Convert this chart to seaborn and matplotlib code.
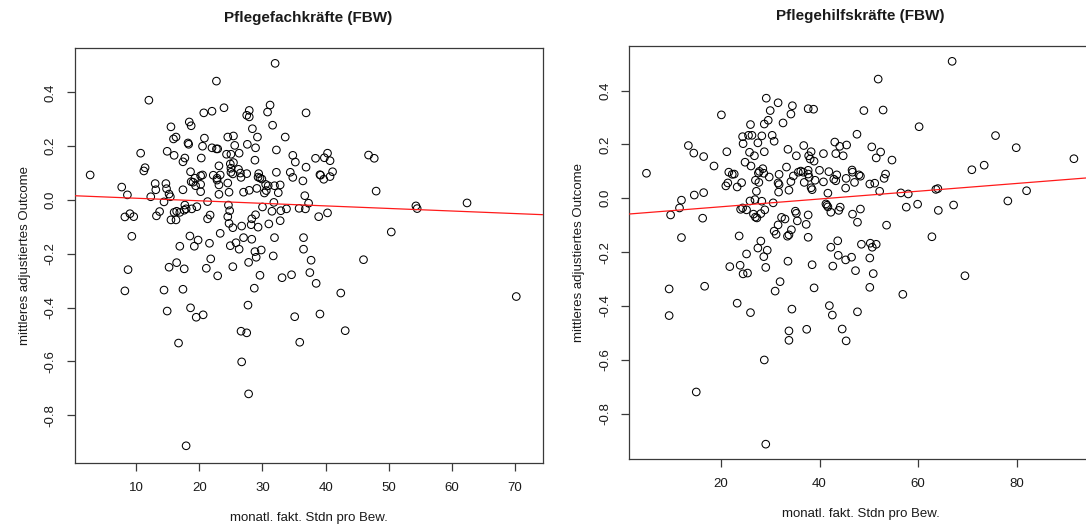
import matplotlib
matplotlib.use("Agg")
import matplotlib.pyplot as plt
import seaborn as sns
import numpy as np
import pandas as pd

# Pflegefachkräfte: monthly invoiced hours per resident vs. mean adjusted outcome
fach_stunden = [
    2.7, 12.0, 10.7, 11.4, 11.2, 7.7, 8.6, 8.2, 9.0, 9.6, 9.3, 12.3, 8.7, 8.2,
    32.0, 22.7, 23.9, 20.7, 22.0, 27.9, 27.5, 27.9, 31.2, 30.8, 31.6, 15.5, 18.4, 18.7,
    28.4, 15.9, 16.3, 20.8, 24.5, 25.4, 29.2, 33.6, 18.2, 18.3, 20.5, 22.0, 22.7, 22.9,
    25.6, 27.6, 28.9, 14.9, 16.0, 24.3, 25.0, 26.3, 32.2, 17.7, 17.4, 20.3, 28.8, 34.8,
    35.2, 23.1, 24.9, 25.4, 25.0, 18.6, 20.5, 20.2, 22.2, 22.8, 22.8, 23.3, 25.0, 25.3,
    26.2, 26.5, 26.6, 27.5, 29.4, 29.3, 29.6, 29.9, 32.2, 34.4, 34.8, 19.3, 19.0, 18.7,
    19.4, 20.2, 23.1, 24.5, 30.5, 30.9, 30.6, 30.3, 31.9, 32.8, 32.5, 13.0, 13.1, 14.7,
    14.8, 15.2, 15.4, 17.4, 20.2, 23.1, 24.7, 27.0, 27.9, 29.1, 14.4, 17.7, 21.3, 24.6,
    31.8, 13.7, 16.0, 16.4, 16.9, 17.6, 17.9, 18.8, 19.6, 24.8, 30.0, 31.5, 32.9, 33.8,
    28.9,
    13.2, 15.5, 16.3, 21.3, 21.7, 24.5, 24.7, 25.3, 26.7, 28.3, 28.2, 29.3, 31.0, 32.8,
    23.3, 18.5, 19.8, 19.2, 16.9, 21.6, 24.9, 25.8, 26.3, 27.0, 28.3, 31.9, 28.8, 29.8,
    29.0, 31.7, 27.8, 21.8, 16.4, 15.2, 17.6, 21.1, 25.3, 22.9, 29.6, 33.1, 34.6, 14.4,
    17.4, 28.7, 14.9, 18.6, 19.5, 20.6, 27.7, 35.1, 26.6, 27.5, 16.7, 26.7, 27.8, 17.9,
    36.9, 38.4, 39.8, 40.3, 40.7, 36.9, 46.8, 47.7, 36.4, 39.1, 39.2, 39.7, 40.7, 41.1,
    36.7, 37.3, 35.8, 36.8, 48.0, 38.9, 40.3, 54.3, 54.5, 62.4, 50.4, 36.5, 36.5, 37.7,
    46.0, 37.5, 38.5, 42.4, 70.2, 39.1, 43.1, 35.9,
]
fach_outcome = [
    0.093, 0.371, 0.174, 0.120, 0.108, 0.048, 0.019, -0.063, -0.051, -0.062, -0.135, 0.012, -0.259, -0.338,
    0.508, 0.442, 0.343, 0.324, 0.330, 0.333, 0.315, 0.309, 0.353, 0.327, 0.278, 0.272, 0.290, 0.276,
    0.265, 0.227, 0.234, 0.230, 0.234, 0.238, 0.234, 0.234, 0.212, 0.207, 0.200, 0.194, 0.190, 0.190,
    0.203, 0.207, 0.194, 0.181, 0.166, 0.170, 0.170, 0.174, 0.186, 0.156, 0.142, 0.156, 0.148, 0.166,
    0.141, 0.127, 0.134, 0.139, 0.118, 0.105, 0.093, 0.090, 0.092, 0.081, 0.074, 0.093, 0.103, 0.097,
    0.114, 0.100, 0.084, 0.098, 0.098, 0.085, 0.082, 0.078, 0.103, 0.103, 0.084, 0.081, 0.066, 0.068,
    0.053, 0.058, 0.056, 0.063, 0.058, 0.053, 0.035, 0.026, 0.053, 0.056, 0.027, 0.061, 0.038, 0.061,
    0.042, 0.022, 0.012, 0.038, 0.031, 0.021, 0.029, 0.029, 0.036, 0.043, -0.007, -0.019, -0.006, -0.019,
    -0.009, -0.043, -0.046, -0.042, -0.046, -0.038, -0.033, -0.033, -0.025, -0.040, -0.026, -0.042, -0.040, -0.033,
    -0.055,
    -0.059, -0.074, -0.074, -0.070, -0.056, -0.062, -0.087, -0.103, -0.097, -0.070, -0.092, -0.101, -0.089, -0.077,
    -0.124, -0.134, -0.149, -0.172, -0.172, -0.161, -0.170, -0.159, -0.183, -0.140, -0.146, -0.140, -0.192, -0.186,
    -0.213, -0.208, -0.232, -0.219, -0.233, -0.250, -0.256, -0.254, -0.248, -0.282, -0.280, -0.289, -0.278, -0.335,
    -0.332, -0.328, -0.413, -0.401, -0.436, -0.427, -0.391, -0.434, -0.488, -0.494, -0.532, -0.602, -0.721, -0.914,
    0.324, 0.155, 0.157, 0.174, 0.146, 0.122, 0.167, 0.155, 0.071, 0.094, 0.092, 0.077, 0.087, 0.105,
    0.016, -0.012, -0.031, -0.033, 0.033, -0.062, -0.048, -0.022, -0.032, -0.011, -0.119, -0.140, -0.183, -0.224,
    -0.222, -0.270, -0.310, -0.346, -0.359, -0.424, -0.486, -0.529,
]

# Pflegehilfskräfte: monthly invoiced hours per resident vs. mean adjusted outcome
hilf_stunden = [
    4.9, 13.4, 9.8, 11.6, 12.0, 12.0, 9.5, 9.5,
    29.2, 31.6, 34.5, 37.7, 38.8, 34.2, 30.0, 20.1, 29.6, 28.8, 32.6, 26.0, 24.4, 25.6,
    26.3, 28.3, 30.4, 30.8, 24.5, 27.5, 14.5, 16.5, 21.2, 25.8, 26.8, 28.8, 33.6, 36.8,
    35.3, 37.8, 38.1, 38.3, 38.9, 40.8, 43.1, 44.1, 45.5, 43.3, 44.8, 47.6, 18.6, 24.9,
    26.1, 33.3, 28.5, 27.8, 27.6, 28.7, 21.6, 22.3, 22.7, 31.8, 29.8, 34.7, 35.7, 36.2,
    36.7, 37.7, 37.7, 37.9, 40.0, 41.9, 43.5, 42.9, 43.3, 39.1, 40.8, 36.9, 38.3, 38.5,
    34.2, 27.0, 27.7, 21.4, 21.0, 24.2, 23.3, 31.6, 31.8, 31.7, 33.8, 27.2, 41.7, 45.3,
    45.4, 46.6, 47.1, 46.7, 48.0, 14.6, 16.5, 25.9, 26.9, 28.3, 30.6, 24.0, 24.4, 25.2,
    26.6, 27.0, 27.3, 28.1, 28.9, 41.3, 41.5, 41.7, 42.3, 43.9, 44.2, 16.3, 35.1, 35.3,
    37.7, 32.3, 33.0, 35.5, 37.3, 46.7, 47.7, 30.8, 31.2, 31.6, 33.8, 33.5, 34.3, 37.7,
    23.7, 28.1, 27.5, 29.4, 28.7, 25.2, 21.8, 23.9, 24.5, 25.4, 29.1, 33.6, 38.5, 42.3,
    43.7, 43.8, 45.3, 46.5, 42.7, 47.3, 16.7, 32.0, 31.0, 38.9, 23.3, 26.0, 34.4, 42.0,
    42.6, 47.7, 33.8, 33.8, 37.4, 44.6, 45.4,
    28.8, 15.0, 29.1,
    66.9, 51.9, 49.0, 52.9, 60.2, 50.6, 52.4, 51.5, 54.7, 75.7, 79.9, 91.6, 48.3, 53.4,
    53.1, 50.2, 51.2, 52.2, 56.5, 58.0, 63.6, 64.0, 70.9, 73.4, 82.0, 78.2, 48.3, 57.6,
    59.9, 64.1, 67.2, 53.6, 62.8, 48.5, 50.3, 50.7, 51.5, 50.2, 50.9, 50.2, 69.5, 56.9,
]
hilf_outcome = [
    0.093, 0.196, -0.062, -0.036, -0.007, -0.146, -0.337, -0.436,
    0.372, 0.355, 0.344, 0.333, 0.331, 0.313, 0.326, 0.310, 0.290, 0.276, 0.280, 0.274, 0.229, 0.234,
    0.234, 0.232, 0.234, 0.212, 0.203, 0.206, 0.168, 0.155, 0.173, 0.171, 0.158, 0.173, 0.182, 0.196,
    0.158, 0.158, 0.146, 0.173, 0.138, 0.166, 0.209, 0.193, 0.198, 0.166, 0.158, 0.238, 0.120, 0.134,
    0.120, 0.116, 0.110, 0.100, 0.094, 0.093, 0.097, 0.089, 0.090, 0.089, 0.079, 0.083, 0.097, 0.101,
    0.097, 0.104, 0.090, 0.078, 0.104, 0.099, 0.087, 0.071, 0.065, 0.067, 0.061, 0.059, 0.039, 0.032,
    0.062, 0.067, 0.059, 0.057, 0.046, 0.058, 0.042, 0.057, 0.051, 0.023, 0.030, 0.026, 0.019, 0.038,
    0.074, 0.105, 0.059, 0.097, 0.087, 0.012, 0.021, -0.010, -0.005, -0.011, -0.017, -0.041, -0.036, -0.043,
    -0.059, -0.070, -0.073, -0.057, -0.043, -0.021, -0.026, -0.032, -0.052, -0.045, -0.033, -0.074, -0.048, -0.056,
    -0.062, -0.071, -0.077, -0.084, -0.097, -0.059, -0.089, -0.122, -0.134, -0.099, -0.136, -0.141, -0.117, -0.145,
    -0.140, -0.159, -0.185, -0.193, -0.217, -0.207, -0.254, -0.249, -0.281, -0.278, -0.257, -0.234, -0.247, -0.182,
    -0.158, -0.212, -0.229, -0.219, -0.252, -0.269, -0.327, -0.310, -0.345, -0.333, -0.390, -0.425, -0.412, -0.399,
    -0.434, -0.422, -0.493, -0.528, -0.487, -0.486, -0.530,
    -0.601, -0.720, -0.914,
    0.509, 0.443, 0.326, 0.328, 0.266, 0.191, 0.172, 0.150, 0.142, 0.233, 0.188, 0.147, 0.082, 0.090,
    0.074, 0.053, 0.056, 0.026, 0.020, 0.016, 0.033, 0.036, 0.106, 0.123, 0.028, -0.010, -0.040, -0.033,
    -0.022, -0.045, -0.025, -0.100, -0.143, -0.171, -0.167, -0.182, -0.171, -0.222, -0.280, -0.331, -0.288, -0.357,
]

# Fitted linear trends (intercept, slope)
fach_fit = (0.016, -0.00095)
hilf_fit = (-0.0605, 0.001445)

panel_titles = ["Pflegefachkräfte (FBW)", "Pflegehilfskräfte (FBW)"]
x_label = "monatl. fakt. Stdn pro Bew."
y_label = "mittleres adjustiertes Outcome"
fach_xticks = [10, 20, 30, 40, 50, 60, 70]
hilf_xticks = [20, 40, 60, 80]
y_ticks = [-0.8, -0.6, -0.4, -0.2, 0.0, 0.2, 0.4]

sns.set_theme(style="white")
plt.rcParams["font.family"] = ["Liberation Sans", "DejaVu Sans"]
plt.rcParams["axes.unicode_minus"] = False

W, H = 1086, 526
fig = plt.figure(figsize=(W / 100, H / 100), dpi=100)
fig.patch.set_facecolor("white")

ax1 = fig.add_axes([74.5 / W, 1 - 463 / H, (542.6 - 74.5) / W, (463 - 48.3) / H])
ax2 = fig.add_axes([629.3 / W, 1 - 458.7 / H, (1092 - 629.3) / W, (458.7 - 46) / H])

panels = [
    (ax1, fach_stunden, fach_outcome, fach_fit, fach_xticks, (0.22, 74.37), (-0.978, 0.564)),
    (ax2, hilf_stunden, hilf_outcome, hilf_fit, hilf_xticks, (1.42, 95.27), (-0.968, 0.566)),
]

frame_col = "#3a3a3a"
text_col = "#1a1a1a"

for (ax, xs, ys, fit, xt, xl, yl), title in zip(panels, panel_titles):
    df = pd.DataFrame({"stunden": xs, "outcome": ys})
    sns.scatterplot(data=df, x="stunden", y="outcome", ax=ax, marker="o",
                    s=30, facecolors="none", edgecolor="black", linewidth=0.75,
                    legend=False, zorder=3)
    for coll in ax.collections:
        coll.set_facecolor("none")
        coll.set_edgecolor("black")
    ax.axline((0, fit[0]), slope=fit[1], color="#ff1a1a", lw=0.9, zorder=4)

    ax.set_xlim(*xl)
    ax.set_ylim(*yl)
    ax.set_xticks(xt)
    ax.set_xticklabels([str(v) for v in xt])
    ax.set_yticks(y_ticks)
    ax.set_yticklabels([f"{v:.1f}" for v in y_ticks])
    for lab in ax.get_yticklabels():
        lab.set_rotation(90)
        lab.set_va("center")
    ax.tick_params(axis="both", direction="out", length=6, width=0.9,
                   bottom=True, left=True, top=False, right=False,
                   color=frame_col, labelcolor=text_col, labelsize=9.5)
    ax.tick_params(axis="x", pad=8)
    ax.tick_params(axis="y", pad=7)
    for sp in ax.spines.values():
        sp.set_visible(True)
        sp.set_color(frame_col)
        sp.set_linewidth(0.9)
    ax.set_title(title, fontsize=11, fontweight="bold", color=text_col, pad=19)
    ax.set_xlabel(x_label, fontsize=9.5, color=text_col, labelpad=13)
    ax.set_ylabel(y_label, fontsize=9.5, color=text_col, labelpad=10)
    ax.grid(False)

fig.savefig("out.png", dpi=100, facecolor="white")
